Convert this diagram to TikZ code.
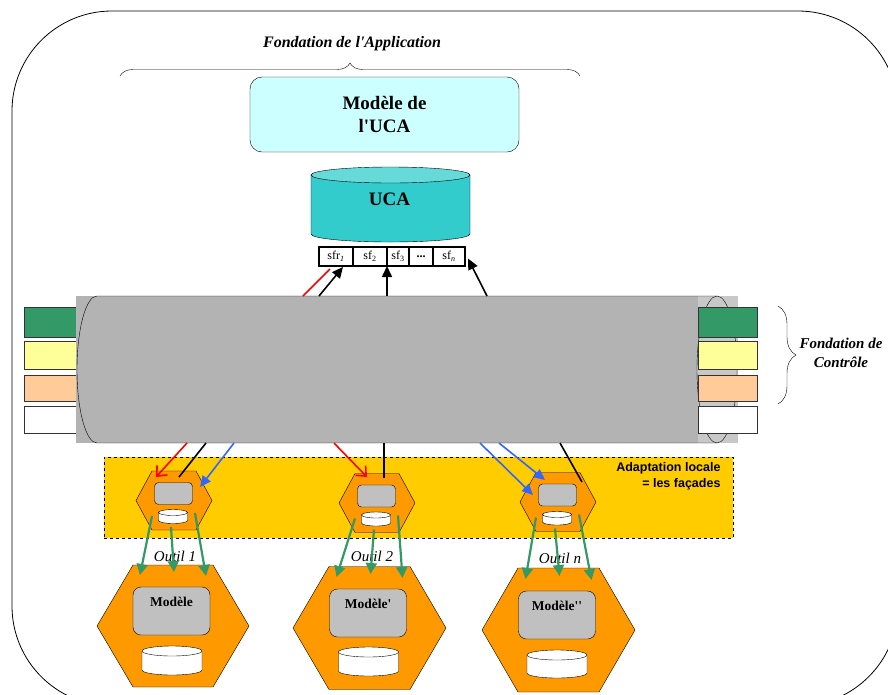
\documentclass[tikz,border=0pt]{standalone}
\usepackage{fontspec}
\setmainfont{Liberation Serif}
\newfontfamily\arial{Liberation Sans}
\usepackage{xcolor}
\usetikzlibrary{positioning,shapes,arrows.meta,calc}
\usetikzlibrary{decorations.pathreplacing}

\definecolor{palecyan}{HTML}{CCFFFF}
\definecolor{ucacyan}{HTML}{33CCCC}
\definecolor{ucatop}{HTML}{66D9D9}
\definecolor{busgray}{HTML}{B3B3B3}
\definecolor{buslight}{HTML}{C8C8C8}
\definecolor{facgold}{HTML}{FFCC00}
\definecolor{hexorange}{HTML}{FF9900}
\definecolor{boxgray}{HTML}{C0C0C0}
\definecolor{sgreen}{HTML}{339966}
\definecolor{syellow}{HTML}{FFFF99}
\definecolor{speach}{HTML}{FFCC99}
\definecolor{arrblue}{HTML}{3366FF}

% hexagon: name, x, y, half width, half height, chamfer
\newcommand{\hexa}[6]{%
  \coordinate (#1) at (#2,#3);
  \draw[fill=hexorange] (#2-#4,#3) -- (#2-#4+#6,#3-#5) -- (#2+#4-#6,#3-#5)
    -- (#2+#4,#3) -- (#2+#4-#6,#3+#5) -- (#2-#4+#6,#3+#5) -- cycle;}
% cylinder: x, top y, bottom y, rx, ry, body, top
\newcommand{\cyl}[7]{%
  \draw[fill=#6] (#1-#4,#2) -- (#1-#4,#3) arc[start angle=180,end angle=0,x radius=#4,y radius=#5] -- (#1+#4,#2);
  \draw[fill=#7] (#1,#2) ellipse [x radius=#4,y radius=#5];}

\tikzset{
  ttl/.style={font=\fontsize{16}{19}\selectfont\bfseries\itshape},
  sfbox/.style={draw,line width=1.4pt,fill=white,inner sep=0pt,outer sep=0pt,minimum height=19,font=\fontsize{12}{13}\selectfont},
  gbox/.style={draw=black!80,line width=0.8pt,inner sep=0pt},
  ibox/.style={draw,fill=boxgray,rounded corners=4pt,inner sep=0pt},
  mtxt/.style={font=\fontsize{13.5}{16}\selectfont\bfseries},
  otxt/.style={font=\fontsize{15}{18}\selectfont\itshape},
  redarr/.style={draw=red,line width=1.6pt,-{Straight Barb[length=8pt,width=14pt]}},
  bluearr/.style={draw=arrblue,line width=1.6pt,-{Triangle[length=11pt,width=10pt]}},
  blk/.style={line width=1.6pt},
  blkarr/.style={line width=1.6pt,-{Triangle[length=11pt,width=10pt]}},
  grnarr/.style={draw=sgreen,line width=2.2pt,-{Triangle[length=11pt,width=11pt]}}
}

\begin{document}
\begin{tikzpicture}[x=1pt,y=-1pt]
\useasboundingbox (0,0) rectangle (888,694);
\draw[line width=0.8pt,rounded corners=100pt] (12,11) rectangle (898,706);

% application
\draw node (appli) at (352,44) [ttl]{Fondation de l\textquotesingle Application};
\draw[decorate,decoration={brace,amplitude=13pt}] (120,76) -- (580,76);
\draw node (modele) at (384.5,114.5) [draw,fill=palecyan,rounded corners=12pt,minimum width=269,minimum height=75,align=center,font=\fontsize{19}{23}\selectfont\bfseries]{Mod\`ele de\\l\textquotesingle UCA};
\cyl{390.5}{175}{234}{79.5}{8}{ucacyan}{ucatop}
\draw node (uca) at (389.5,199) [font=\fontsize{19}{22}\selectfont\bfseries]{UCA};

\draw node (sf1) at (336,256.5) [sfbox,minimum width=34]{sfr\textsubscript{\textit{1}}};
\draw node (sf2) [sfbox,right=0pt of sf1,minimum width=34]{sf\textsubscript{2}};
\draw node (sf3) [sfbox,right=0pt of sf2,minimum width=22]{sf\textsubscript{3}};
\draw node (sf4) [sfbox,right=0pt of sf3,minimum width=24]{\textbf{...}};
\draw node (sf5) [sfbox,right=0pt of sf4,minimum width=32]{sf\textsubscript{\textit{n}}};

% controle
\draw node (lb1) at (50,322) [gbox,fill=sgreen,minimum width=52,minimum height=30]{};
\draw node (lb2) at (50,355) [gbox,fill=syellow,minimum width=52,minimum height=28]{};
\draw node (lb3) at (50,388) [gbox,fill=speach,minimum width=52,minimum height=26]{};
\draw node (lb4) at (50,419.5) [gbox,fill=white,minimum width=52,minimum height=27]{};

\draw node (bus) at (407,369.5) [fill=busgray,minimum width=662,minimum height=147,inner sep=0pt,outer sep=0pt]{};
\fill[buslight] (698,296) rectangle (738,443);
\draw (717,296) -- (97,296) arc[start angle=270,end angle=90,x radius=20,y radius=73.5] -- (717,443);
\draw[fill=buslight] (717,369.5) ellipse [x radius=20,y radius=73.5];

\draw node (rb1) at (727.5,322) [gbox,fill=sgreen,minimum width=59,minimum height=30]{};
\draw node (rb2) at (727.5,355) [gbox,fill=syellow,minimum width=59,minimum height=28]{};
\draw node (rb3) at (727.5,388) [gbox,fill=speach,minimum width=59,minimum height=26]{};
\draw node (rb4) at (727.5,419.5) [gbox,fill=white,minimum width=59,minimum height=27]{};

\draw[decorate,decoration={brace,amplitude=18pt}] (778,306) -- (778,404);
\draw node (ctrl) at (841,353) [ttl,font=\fontsize{15}{19}\selectfont\bfseries\itshape,align=center]{Fondation de\\Contr\^ole};

\draw[red,line width=1.6pt] (bus.north -| 303,0) -- ($(sf1.south west)+(11,3)$);
\draw[blkarr] (bus.north -| 319,0) -- ($(sf1.south)+(7,1)$);
\draw[blkarr] (bus.north -| sf3.south west) -- (sf3.south west);
\draw[blkarr] (bus.north -| 487,0) -- ($(sf5.east)+(3,2)$);

% facades
\draw node (adapt) at (418.5,497.5) [draw,dashed,fill=facgold,minimum width=629,minimum height=81]{};
\draw node (adtxt) at (724,476) [anchor=east,align=right,font=\arial\bfseries\fontsize{12.5}{16}\selectfont]{Adaptation locale\\= les fa\c{c}ades};

\hexa{f1}{174}{500.5}{38}{29.5}{16}
\hexa{f2}{377}{503}{38}{29.5}{16}
\hexa{f3}{558}{502}{38}{29.5}{16}
\draw node (g1) at ($(f1)+(-0.5,-7)$) [ibox,minimum width=38,minimum height=22]{};
\draw node (g2) at ($(f2)+(-0.5,-7)$) [ibox,minimum width=38,minimum height=22]{};
\draw node (g3) at ($(f3)+(-0.5,-7)$) [ibox,minimum width=38,minimum height=22]{};
\cyl{173}{512.5}{520.5}{14.5}{3}{white}{white}
\cyl{376}{515}{523}{14.5}{3}{white}{white}
\cyl{557}{514.5}{522}{14.5}{3}{white}{white}

\draw[redarr] (bus.south -| 187,0) -- ($(f1)+(-18,-23.5)$);
\draw[blk] (bus.south -| 206,0) -- ($(f1)+(5,-23.5)$);
\draw[bluearr] (bus.south -| 234,0) -- ($(f1)+(26,-13.5)$);
\draw[redarr] (bus.south -| 334,0) -- ($(f2)+(-10,-26)$);
\draw[blk] (bus.south -| 384,0) -- ($(f2)+(7,-25)$);
\draw[bluearr] (bus.south -| 480,0) -- ($(f3)+(-25,-7)$);
\draw[bluearr] (bus.south -| 499,0) -- ($(f3)+(-13,-22)$);
\draw[blk] (bus.south -| 560,0) -- ($(f3)+(24,-20)$);

% outils
\draw node (o1) at (175,556) [otxt]{Outil 1};
\draw node (o2) at (372,556) [otxt]{Outil 2};
\draw node (o3) at (560,558) [otxt]{Outil n};

\hexa{m1}{173}{626}{76}{61}{36}
\hexa{m2}{369.5}{628}{76.5}{61.5}{36}
\hexa{m3}{558.5}{630}{76.5}{62}{36}
\draw node (b1) at ($(m1)+(-1.5,-15)$) [ibox,rounded corners=8pt,minimum width=77,minimum height=48]{};
\draw node (b2) at ($(m2)+(-1.5,-15)$) [ibox,rounded corners=8pt,minimum width=77,minimum height=48]{};
\draw node (b3) at ($(m3)+(-1.5,-15)$) [ibox,rounded corners=8pt,minimum width=77,minimum height=48]{};
\draw node (t1) at ($(m1)+(-1.5,-24)$) [mtxt]{Mod\`ele};
\draw node (t2) at ($(m2)+(-1.5,-24)$) [mtxt]{Mod\`ele\textquotesingle};
\draw node (t3) at ($(m3)+(-1.5,-24)$) [mtxt]{Mod\`ele\textquotesingle\textquotesingle};
\cyl{172}{651}{670}{30}{5}{white}{white}
\cyl{368.5}{652}{671}{30}{5}{white}{white}
\cyl{557}{655}{673}{30}{5}{white}{white}

\draw[grnarr] ($(f1)+(-22,15.5)$) -- ($(m1)+(-33,-51)$);
\draw[grnarr] ($(f1)+(-3,26.5)$) -- ($(m1)+(1,-54)$);
\draw[grnarr] ($(f1)+(21,12.5)$) -- ($(m1)+(33,-50)$);
\draw[grnarr] ($(f2)+(-22,15.5)$) -- ($(m2)+(-33,-51)$);
\draw[grnarr] ($(f2)+(-3,26.5)$) -- ($(m2)+(1,-54)$);
\draw[grnarr] ($(f2)+(21,12.5)$) -- ($(m2)+(33,-50)$);
\draw[grnarr] ($(f3)+(-22,15.5)$) -- ($(m3)+(-33,-51)$);
\draw[grnarr] ($(f3)+(-3,26.5)$) -- ($(m3)+(1,-54)$);
\draw[grnarr] ($(f3)+(21,12.5)$) -- ($(m3)+(33,-50)$);
\end{tikzpicture}
\end{document}
